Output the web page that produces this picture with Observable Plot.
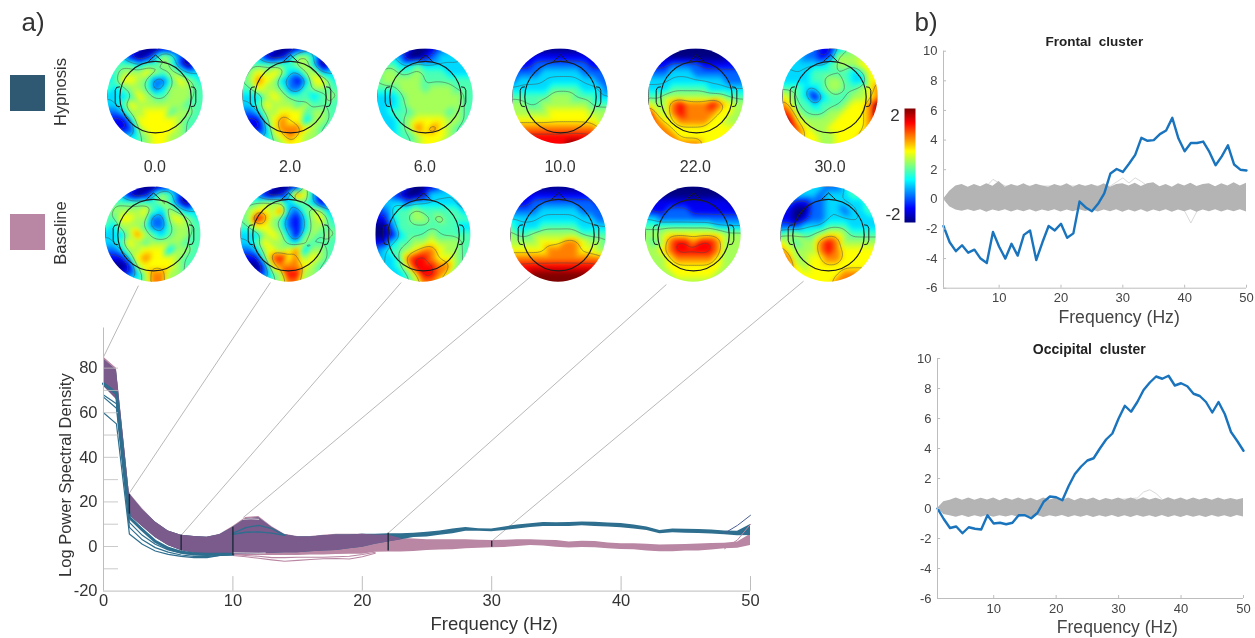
<!DOCTYPE html>
<html><head><meta charset="utf-8">
<script src="https://cdn.jsdelivr.net/npm/d3@7"></script>
<script src="https://cdn.jsdelivr.net/npm/@observablehq/plot@0.6"></script>
<style>
html,body{margin:0;background:#fff;}
#page{position:relative;width:1255px;height:638px;overflow:hidden;font-family:"Liberation Sans",Arial,sans-serif;color:#333;filter:blur(.4px);}
#page svg{position:absolute;background:transparent;overflow:visible;}
.t{position:absolute;white-space:nowrap;transform:translate(-50%,-50%);}
.r{transform:translate(-50%,-50%) rotate(-90deg);}
.sw{position:absolute;}
</style></head><body><div id="page"></div>
<script>
// ---------- topographies: each digit is a level of digitValue, rows top to bottom, columns left to right
const digitValue=[-2,-1.55,-1.1,-.65,-.2,.15,.5,1,1.5,2];
const hyp0=["3332100113333","3331013542133","3444344542023","3455565454333","3466542246543","4345542355544","3334654455544","3346555555444","2235566645544","2113666665444","3112566665444","3333456655444","4444456654444"];
const hyp2=["3332100123333","3331013553123","3444444553023","3565653355333","4576532136643","4465542245544","3335654443454","3346555454444","2235566645544","2114676635544","3113677765444","3333567655444","4444456654444"];
const hyp6=["3332100123333","3332001233333","3443343333333","4554454443333","4555554444444","4445554555444","3334555555544","3334555555544","3344455554544","3334566665544","3334576765444","3334456665444","4444456654444"];
const hyp10=["1110000000111","1111111111111","1112222222111","2222333332222","2333333333322","3333344443332","4444455544433","5544555555444","5555566666555","6666666666655","7777777777766","8888888888877","8888888998888"];
const hyp22=["1000000000001","1110000000111","1112222111111","2223332222222","3333333333222","3334444433333","4455555555444","6557877787655","8657877776655","8766777766555","8776666666655","7777666666666","7777777666666"];
const hyp30=["3333211345555","3332212555555","3333334555666","3333444443466","3333445543366","4443345544567","6543134445567","7644344456679","8754445566679","8865555666678","8876556666677","7776655666777","6666655666666"];
const base0=["3332100123333","3331013542133","3444444542023","3555564354333","4466552256543","4355542245544","3335754345544","3346545555444","2235566635544","1113676665444","2001566665444","3212357755444","4444457754444"];
const base2=["3333100163333","3331013763133","3445553443123","4566573245533","4587542135643","4466542135544","3335653145454","3346554354444","2235656735544","1114786756544","2002677765444","3212458855444","4444457754444"];
const base6=["3333100123333","3321001333333","2333233333323","1234454444433","1134455454444","0024444444433","0013444544444","1134455655544","2344567765544","3334788766544","3334688877544","3333468876444","4444457765444"];
const base10=["1110000000111","1111111111111","1112222222211","2222333332222","3333333333322","4333444443333","5445555554444","5555666776554","6666677776655","7777777777776","8888888888887","8889999999988","8889999999888"];
const base22=["0000000000000","1000000000001","1111111111100","2112221111111","3322222222222","4444444443333","5556666666555","5457887887555","5567888887555","5556777776555","5556666666555","5555666665555","5555555555555"];
const base30=["3333332234444","3333323334444","2211223333344","1100223323344","1101223333333","2223334443333","4554456654444","6545578755555","7655578766666","7755667766666","7765666666666","7666666677776","6666666778776"];
const hypGrids=[hyp0,hyp2,hyp6,hyp10,hyp22,hyp30];
const baseGrids=[base0,base2,base6,base10,base22,base30];
const topoFreqs=["0.0","2.0","6.0","10.0","22.0","30.0"];
const noseX=[-.14,-.05,0,.05,.14], noseY=[.735,.82,.865,.82,.735];
const earX=[.75,.81,.84,.84,.81,.75], earY=[.2,.19,.13,-.12,-.2,-.21];
const jetStops=[-2,-1.5,-.5,.5,1.5,2], jetColors=["#00007f","#0000ff","#00ffff","#ffff00","#ff0000","#7f0000"];
const contourLevels=[-1.3,-.65,-.1,.65,1.3];

// ---------- PSD bands, 0..50 Hz
const psdFreq=d3.range(0,51);
const baseTop=[85,80,24,17,11,7,5,4.5,4.2,5.5,9,13,13.5,9,5.5,4.5,4.5,5,5.5,5.5,5.5,5.2,5,3.6,3.4,3,3,3,3,2.8,2.7,2.8,3,3,2.8,2.7,2,2.4,2.2,1.6,1.2,1.2,1,.7,.8,.9,1.1,1.3,1.5,2,5.5];
const baseLow=[72,66,14,9,4,.4,-1.8,-3,-3.5,-3.8,-4,-4,-4,-4,-4,-4,-3.8,-3.8,-3.6,-3.5,-3.5,-2.6,-2.5,-2.5,-2.2,-1.8,-1.6,-1.4,-1,-.8,-.6,-.4,0,.4,.2,-.3,-.7,-.4,-.6,-1,-1.3,-1.5,-2,-2.4,-2.3,-2,-2,-1.6,-1,-.8,.5];
const hypTop=[84,79,23.5,16.5,11,7,5,4.5,4.2,5.3,8.5,12.3,12.8,8.5,5.3,4.3,4.3,4.8,5.2,5.2,5.5,5.5,5.7,5.7,6,6.4,7,7.8,8.5,8,7.9,8.8,9.7,10.2,10.8,10.7,10.8,11,10.9,10.5,10.3,9.6,8.7,7.2,7.8,7.7,7.6,7.4,7,6.9,9.9];
const hypLow=[72,66,14,9,4,.4,-1.8,-3,-3.5,-3.5,-3.5,-3.5,-3.3,-3,-2.8,-2.8,-2.4,-2,-1.8,-1,-.3,1,2,3,4,4.3,5,5.7,6.9,6.8,6.6,7.2,7.9,8.5,9,9,9,9.3,9,8.8,8.4,7.9,7.2,5.7,6.2,6,5.8,5.6,5.3,4.8,4.9];
// single channel traces that stand out of the bands
const hypTraceA=[60,55,5.6,1,-2,-3.5,-4.4,-5,-5,-4,-3.5];
const hypTraceB=[67,62,8.6,3,-.5,-2.5,-3.8,-4.4,-4.5,-4,-3.5];
const hypTraceC=[68,64,10.8,5,1,-1.5,-3,-3.8,-4,-3.6,-3.5];
const hypThickD=[73,68.6,13,7.5,2.3,-.8,-2.5,-3.3,-3.5,-3.5,-3.5];
const alphaTraceF=[10,11,12,13,14];
const alphaTraceA=[6,8.5,9.5,8,5];
const alphaTraceB=[5.5,6.4,6.6,6,5];
const gapF=[10,11,12,12.5], gapY=[-2.8,-2.9,-3,-2.9];
const gapTopF=[10.8,11.4,12], gapTopY=[12.2,12.4,12.2];
const baseTraceF=[10,11,12,13,14,15,16,17,18,19,20,21];
const baseTraceA=[-4,-4.6,-5.3,-6,-6.6,-6.2,-5.8,-5.5,-5.4,-5.6,-4.6,-3];
const baseTraceB=[-3.6,-4,-4.4,-5,-5,-4.8,-4.8,-4.8,-4.6,-4.4,-3.6,-2.6];
const hfTraceF=[48,49,50], hfTraceA=[6,9.5,14], hfTraceB=[-1,3,10];
const bandFreqs=[2,6,10,22,30], bandHi=[23.4,5,8.6,6,2.4], bandLo=[14.5,-2,-4,-2,-.3];
// connector lines: from a point of the spectrum up to the topography of that frequency
const linkF=[0,2,6,10.8,22,30], linkV=[85,24,5,13,6,2.4], linkF2=[2.7,12.9,23,33,43.5,54.1], linkV2=[117,118.4,118.4,121,117.5,119];

// ---------- permutation curves, 1..50 Hz
const clusterFreq=d3.range(1,51);
const frontal=[-1.8,-2.9,-3.5,-3.1,-3.6,-3.4,-4.0,-4.3,-2.2,-3.2,-4.0,-3.0,-3.8,-2.4,-2.1,-4.1,-2.9,-1.8,-2.1,-1.65,-2.6,-2.3,-.15,-.55,-.8,-.3,.4,1.75,2.05,1.85,2.4,3.0,4.15,3.95,4.0,4.4,4.65,5.5,4.1,3.25,3.8,3.8,3.9,3.2,2.3,2.9,3.65,2.35,2.0,1.95];
const occipital=[0,-.7,-1.3,-1.2,-1.65,-1.25,-1.35,-1.4,-.45,-1,-.95,-1.05,-.95,-.45,-.45,-.65,-.3,.45,.8,.75,.55,1.5,2.3,2.8,3.2,3.35,4,4.6,5,6,6.85,6.45,7.1,7.9,8.4,8.8,8.65,8.85,8.2,8.35,8.15,7.65,7.5,7.1,6.4,7.1,6.3,5.1,4.5,3.85];
const frontalHi=[0,.55,.9,1,.82,1,.85,1.05,.88,1.2,.82,1,.86,1.05,.85,1.02,.9,.82,1,.86,1.05,.82,1,.86,1,.85,1.05,.82,1,1.05,.9,1.08,.86,1.05,1.12,.85,1,.82,1.05,.9,1.08,.86,1,1.05,.85,1.05,.9,1.12,.9,1.08];
const frontalLo=[0,-.5,-.72,-.8,-.7,-.82,-.7,-.88,-.72,-.82,-.7,-.86,-.72,-.84,-.7,-.86,-.72,-.82,-.7,-.85,-.72,-.84,-.7,-.82,-.7,-.86,-.72,-.84,-.7,-.88,-.72,-.85,-.7,-.88,-.72,-.84,-.7,-.88,-.72,-.84,-.7,-.88,-.72,-.84,-.7,-.86,-.72,-.84,-.7,-.86];
const occHi=[0,.45,.55,.7,.55,.7,.55,.68,.56,.7,.52,.68,.55,.7,.55,.68,.52,.7,.56,.68,.55,.7,.52,.68,.56,.7,.52,.66,.56,.7,.55,.7,.56,.72,.56,.68,.55,.72,.56,.7,.55,.7,.56,.68,.55,.7,.56,.66,.56,.66];
const occLo=[0,-.4,-.48,-.58,-.46,-.6,-.48,-.58,-.46,-.58,-.48,-.56,-.46,-.6,-.48,-.58,-.46,-.6,-.48,-.56,-.46,-.6,-.48,-.58,-.46,-.6,-.48,-.58,-.46,-.6,-.48,-.6,-.46,-.58,-.48,-.6,-.46,-.6,-.48,-.6,-.46,-.58,-.48,-.6,-.46,-.58,-.48,-.6,-.46,-.56];
const frontalStrayF=[8,9,10,11,28,30,31,32,33,34,40,41,42];
const frontalStrayY=[.9,1.35,1.1,.9,.9,1.45,1.1,1.45,1.2,.9,-.8,-1.6,-.8];
const occStrayF=[30,33,34,35,36,37];
const occStrayY=[.6,.7,1.1,1.25,1,.6];
const bTicksX=[10,20,30,40,50], bTicksY=[-6,-4,-2,0,2,4,6,8,10];

// ---------- colours
const teal="#2e6e8e", pink="#b986a3", purple="#7b5a8c", swatchTeal="#2f5872", axisGrey="#bdbdbd", ink="#333";

const page=document.getElementById("page");
function put(node,left,top){node.style.left=left+"px";node.style.top=top+"px";page.appendChild(node);}
function text(str,x,y,size,extra){const d=document.createElement("div");d.className="t"+(extra&&extra.rot?" r":"");d.textContent=str;d.style.left=x+"px";d.style.top=y+"px";d.style.fontSize=size+"px";if(extra&&extra.bold){d.style.fontWeight="bold";}page.appendChild(d);}
function swatch(c,x,y,w,h){const d=document.createElement("div");d.className="sw";d.style.cssText+=`left:${x}px;top:${y}px;width:${w}px;height:${h}px;background:${c}`;page.appendChild(d);}

const colorScale={type:"linear",domain:jetStops,range:jetColors,clamp:true};

function head(grid){
  const n=grid.length-1;
  const pts=grid.flatMap((row,i)=>[...row].map((c,j)=>({x:-1+j*2/n,y:1-i*2/n,v:digitValue[+c]})));
  const g=Plot.plot({width:96,height:96,margin:0,x:{domain:[-1,1],axis:null},y:{domain:[-1,1],axis:null},color:colorScale,
    marks:[
      Plot.raster(pts,{x:"x",y:"y",fill:"v",x1:-1,x2:1,y1:-1,y2:1,interpolate:"barycentric",pixelSize:1,blur:1.5}),
      Plot.contour(pts,{x:"x",y:"y",value:"v",x1:-1,x2:1,y1:-1,y2:1,interpolate:"barycentric",blur:1.5,thresholds:contourLevels,stroke:"#4a4a4a",strokeWidth:.7,strokeOpacity:.7,fill:"none"}),
      Plot.dot([{x:0,y:-.012}],{x:"x",y:"y",r:35.7,stroke:"#1c1c1c",strokeWidth:1.2,fill:"none"}),
      Plot.line(noseX.map((x,i)=>({x,y:noseY[i]})),{x:"x",y:"y",stroke:"#1c1c1c",strokeWidth:1}),
      Plot.line(earX.map((x,i)=>({x,y:earY[i]})),{x:"x",y:"y",stroke:"#1c1c1c",strokeWidth:1}),
      Plot.line(earX.map((x,i)=>({x:-x,y:earY[i]})),{x:"x",y:"y",stroke:"#1c1c1c",strokeWidth:1})
    ]});
  g.style.clipPath="circle(47.7px at 48px 48px)";
  return g;
}
const hypCx=[155,290,425,560,695.7,830], baseCx=[152.7,288,422.7,558,693,828];
hypGrids.forEach((g,i)=>put(head(g),hypCx[i]-48,96-48));
baseGrids.forEach((g,i)=>put(head(g),baseCx[i]-48,234-48));

// colour bar
const bar=Plot.plot({width:11,height:114,margin:0,x:{domain:[0,1],axis:null},y:{domain:[-2,2],axis:null},color:colorScale,
  marks:[Plot.raster({x1:0,x2:1,y1:-2,y2:2,fill:(x,y)=>y,pixelSize:1})]});
put(bar,904,108);
text("2",895,116,17); text("-2",893,215,17);

// texts and swatches
text("a)",33,22,26); text("b)",926,22,26);
topoFreqs.forEach((s,i)=>text(s,(hypCx[i]+baseCx[i])/2+1,167,16));
swatch(swatchTeal,10,74.5,35,36); swatch(pink,10,214,35,36);
text("Hypnosis",60,92,16.5,{rot:true}); text("Baseline",60,233,16.5,{rot:true});

// lower spectrum plot
const rows=(fs,a,b)=>fs.map((f,i)=>({f,a:a[i],b:b[i]}));
const ovLow=hypLow.map((v,i)=>Math.max(v,baseLow[i])), ovTop=hypTop.map((v,i)=>Math.min(v,baseTop[i]));
const overlap=psdFreq.map((f,i)=>({f,a:ovTop[i]>ovLow[i]?ovLow[i]:NaN,b:ovTop[i]>ovLow[i]?ovTop[i]:NaN}));
const traceLine=(fs,vs,c,w)=>Plot.line(fs.map((f,i)=>({f,v:vs[i]})),{x:"f",y:"v",stroke:c,strokeWidth:w});
const plain=d=>String(d);
const psd=Plot.plot({width:790,height:368,marginLeft:103,marginRight:40,marginTop:0,marginBottom:47.4,
  x:{domain:[0,50],axis:null},y:{domain:[-20,123.8],axis:null},
  marks:[
    Plot.link(linkF,{x1:d=>d,y1:(d,i)=>linkV[i],x2:(d,i)=>linkF2[i],y2:(d,i)=>linkV2[i],stroke:"#b0b0b0",strokeWidth:.9}),
    Plot.areaY(rows(psdFreq,baseLow,baseTop),{x:"f",y1:"a",y2:"b",fill:pink}),
    traceLine(baseTraceF,baseTraceA,pink,1.1),
    traceLine(baseTraceF,baseTraceB,pink,1.1),
    Plot.areaY(rows(psdFreq,hypLow,hypTop),{x:"f",y1:"a",y2:"b",fill:teal}),
    Plot.areaY(overlap,{x:"f",y1:"a",y2:"b",fill:purple}),
    traceLine(psdFreq.slice(0,11),hypThickD,teal,3),
    traceLine(psdFreq.slice(0,11),hypTraceA,teal,1.2),
    traceLine(psdFreq.slice(0,11),hypTraceB,teal,1.2),
    traceLine(psdFreq.slice(0,11),hypTraceC,teal,1.2),
    traceLine(alphaTraceF,alphaTraceA,teal,1.3),
    traceLine(alphaTraceF,alphaTraceB,teal,1.3),
    traceLine(gapF,gapY,"#ddd",.9),
    traceLine(gapTopF,gapTopY,"#ddd",.9),
    traceLine(hfTraceF,hfTraceA,"#4a5d94",1),
    traceLine(hfTraceF,hfTraceB,pink,1),
    Plot.ruleX(bandFreqs,{x:d=>d,y1:(d,i)=>bandLo[i],y2:(d,i)=>bandHi[i],stroke:"#1d2b3a",strokeWidth:1.4}),
    // axes
    Plot.ruleX([0],{y1:-20,y2:98,stroke:axisGrey}),
    Plot.ruleY([-20],{x1:0,x2:50,stroke:axisGrey}),
    Plot.ruleY([-10,0,10,20,30,40,50,60,70,80],{x1:0,x2:1.16,stroke:axisGrey,strokeOpacity:.8}),
    Plot.ruleX([10,20,30,40,50],{y1:-20,y2:-13.5,stroke:axisGrey}),
    Plot.axisY([-20,0,20,40,60,80],{anchor:"left",tickSize:0,tickPadding:6,label:null,fontSize:16.5,color:ink,tickFormat:plain}),
    Plot.axisX([0,10,20,30,40,50],{anchor:"bottom",tickSize:0,tickPadding:3,label:null,fontSize:16.5,color:ink,tickFormat:plain}),
    Plot.text(["Log Power Spectral Density"],{x:-2.93,y:32,rotate:-90,fontSize:16.5,fill:ink}),
    Plot.text(["Frequency (Hz)"],{x:30.2,y:-34.8,fontSize:18.5,fill:ink})
  ],style:{fontFamily:"Liberation Sans"}});
put(psd,0,270);

// cluster plots
function cluster(name,curve,hi,lo,sf,sy,o){
  const band=rows(clusterFreq,lo,hi);
  const stray=sf.map((f,i)=>({f,v:sy[i]}));
  return Plot.plot({width:355,height:o.h,marginLeft:o.l,marginRight:o.r,marginTop:o.t,marginBottom:o.b,
    x:{domain:[1,50],axis:null},y:{domain:[-6,10],axis:null},
    marks:[
      Plot.line(stray,{x:"f",y:"v",stroke:"#cfcfcf",strokeWidth:.8}),
      Plot.areaY(band,{x:"f",y1:"a",y2:"b",fill:"#b4b4b4"}),
      Plot.line(clusterFreq.map((f,i)=>({f,v:curve[i]})),{x:"f",y:"v",stroke:"#1a74bd",strokeWidth:2.4,strokeLinejoin:"round"}),
      Plot.ruleX([1],{y1:-6,y2:10,stroke:axisGrey}),
      Plot.ruleY([-6],{x1:1,x2:50,stroke:axisGrey}),
      Plot.ruleY(bTicksY,{x1:1,x2:1.5,stroke:axisGrey}),
      Plot.ruleX(bTicksX,{y1:-6,y2:-5.8,stroke:axisGrey}),
      Plot.axisY(bTicksY,{anchor:"left",tickSize:0,tickPadding:6,label:null,fontSize:o.fs,color:"#444",tickFormat:plain}),
      Plot.axisX(bTicksX,{anchor:"bottom",tickSize:0,tickPadding:5,label:null,fontSize:o.fs,color:"#444",tickFormat:plain}),
      Plot.text([name],{x:o.tx,y:o.ty,fontWeight:"bold",fontSize:o.ts,fill:"#222"}),
      Plot.text(["Frequency (Hz)"],{x:o.lx,y:o.ly,fontSize:17.6,fill:"#444"})
    ],style:{fontFamily:"Liberation Sans"}});
}
put(cluster("Frontal  cluster",frontal,frontalHi,frontalLo,frontalStrayF,frontalStrayY,{h:290,l:43,r:9,t:20.7,b:32.3,fs:13,ts:13.5,tx:25.4,ty:10.65,lx:29.4,ly:-7.98}),900,30);
put(cluster("Occipital  cluster",occipital,occHi,occLo,occStrayF,occStrayY,{h:298,l:37,r:12,t:18,b:40,fs:13,ts:14,tx:25.3,ty:10.6,lx:29.8,ly:-7.9}),900,340);
</script></body></html>
